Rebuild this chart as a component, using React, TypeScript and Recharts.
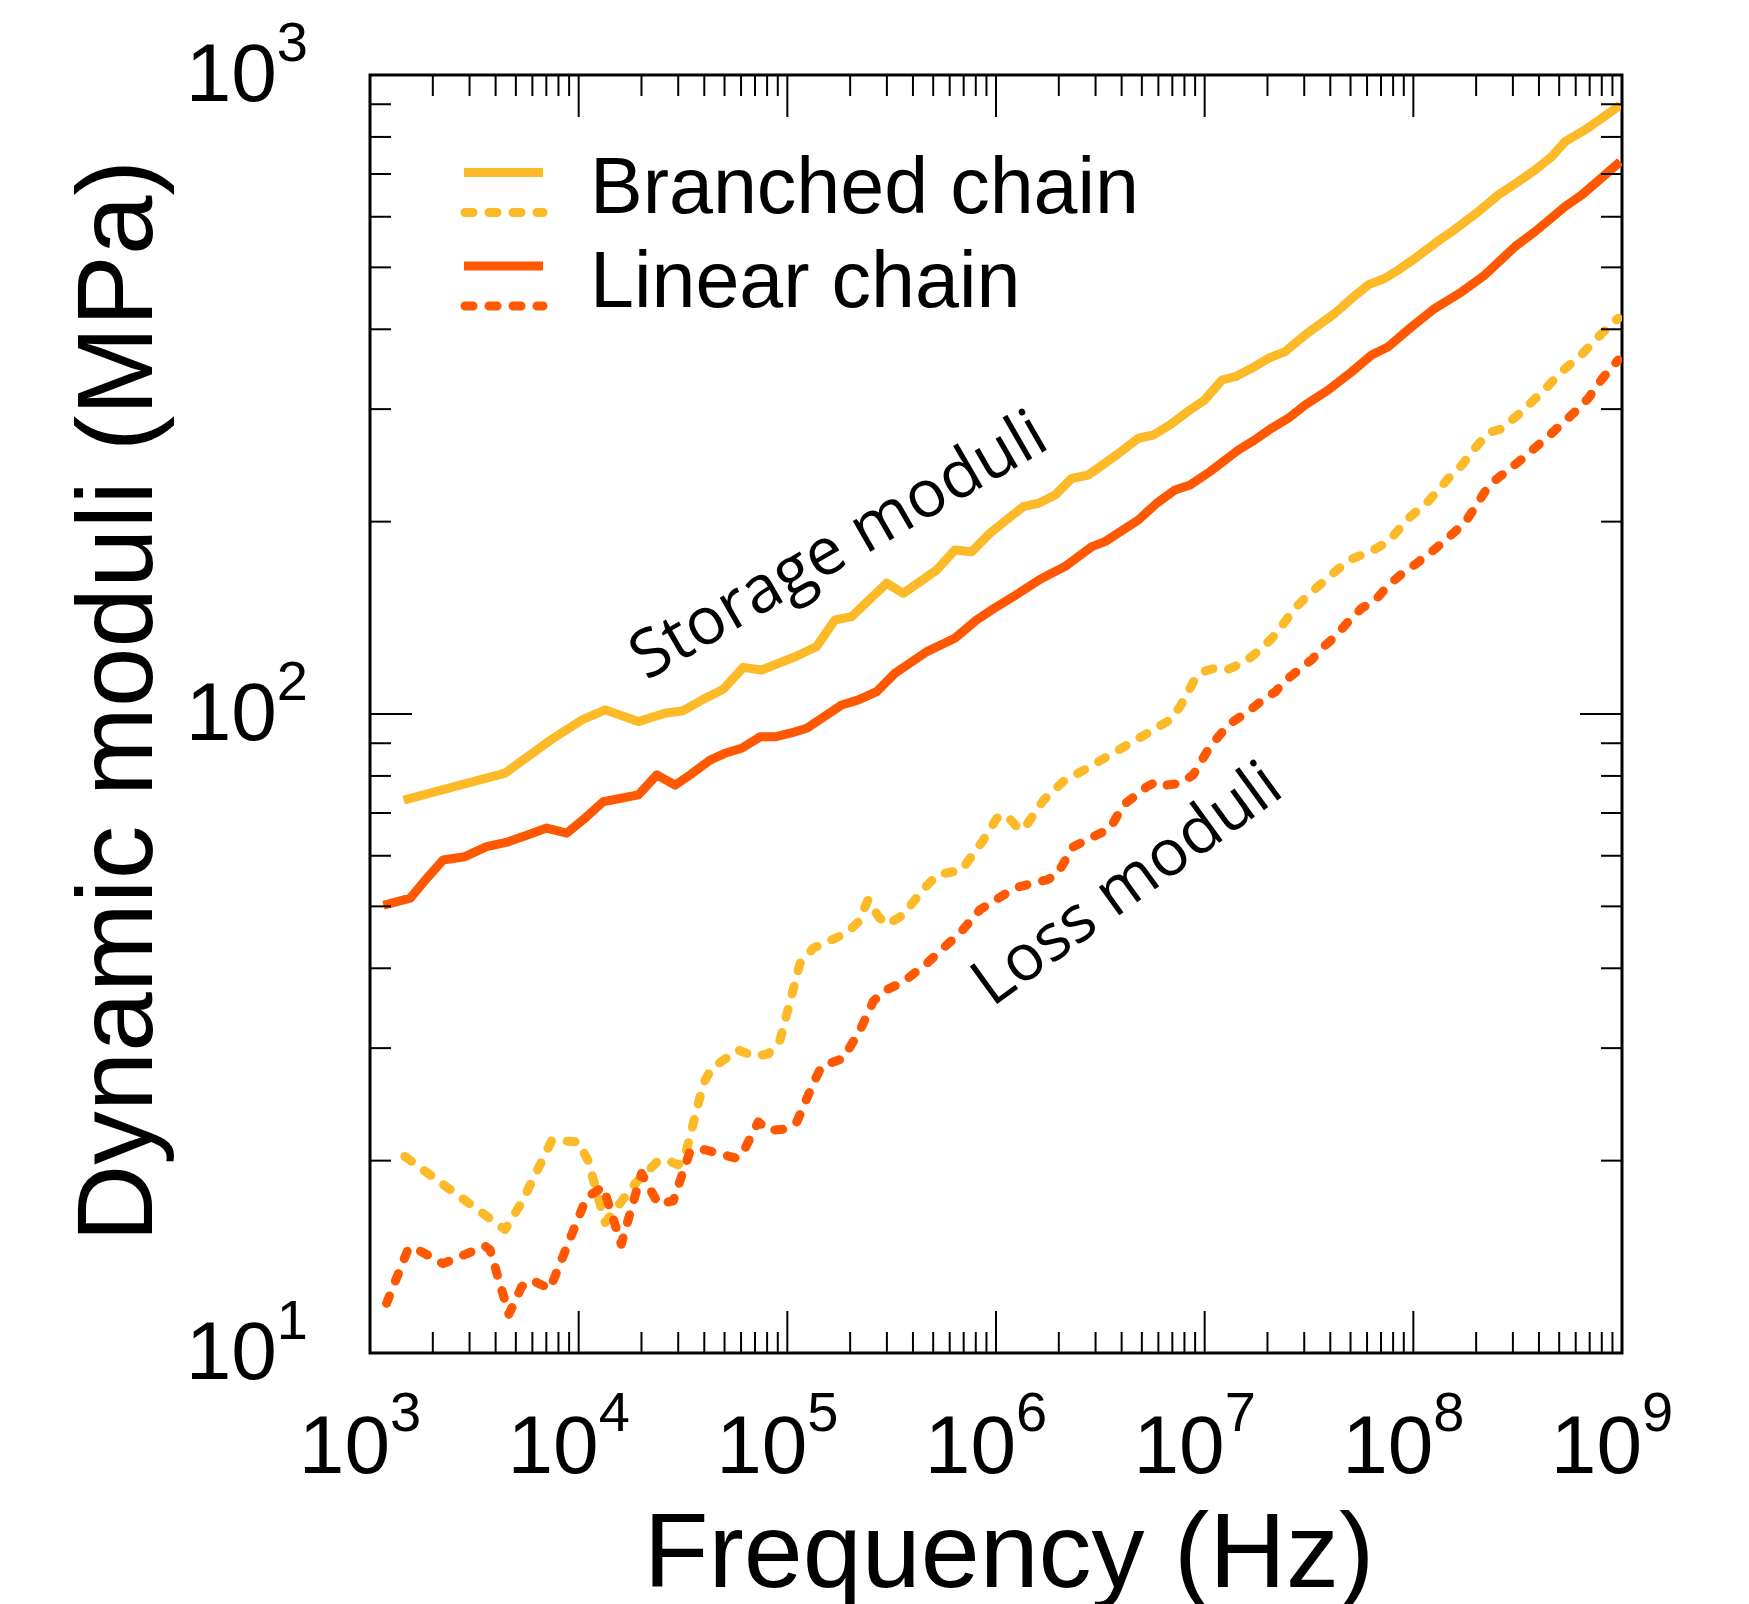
import React from 'react';
import { LineChart, Line, XAxis, YAxis, ReferenceArea } from 'recharts';

// ---- Data (frequency in Hz, modulus in MPa) ----
const branchedStorage: [number, number][] = [
  [1.45e3, 73.3], [4.44e3, 80.8], [7.43e3, 91.3], [1.05e4, 98.1], [1.34e4, 101.5], [1.93e4, 97.3],
  [2.59e4, 100.3], [3.17e4, 101.2], [4.03e4, 105.8], [4.93e4, 109.3], [6.15e4, 118.3], [7.53e4, 117.2],
  [1.09e5, 122.9], [1.38e5, 127.5], [1.69e5, 140.3], [2.03e5, 142.0], [2.99e5, 160.2], [3.6e5, 154.5],
  [5.2e5, 168.0], [6.35e5, 180.6], [7.66e5, 179.5], [9.35e5, 191.8], [1.35e6, 211.1], [1.6e6, 213.7],
  [1.92e6, 220.2], [2.31e6, 233.8], [2.77e6, 236.6], [3.78e6, 254.3], [4.81e6, 270.1], [5.68e6, 273.3],
  [6.82e6, 283.4], [8.51e6, 299.1], [1.0e7, 310.1], [1.21e7, 333.2], [1.4e7, 337.2], [1.68e7, 347.5],
  [2.02e7, 360.3], [2.43e7, 369.0], [3.03e7, 391.9], [4.21e7, 423.8], [5.07e7, 447.3], [6.08e7, 469.3],
  [7.31e7, 480.8], [8.47e7, 495.3], [1.02e8, 516.6], [1.27e8, 545.3], [1.53e8, 568.7], [2.05e8, 611.1],
  [2.55e8, 649.0], [3.18e8, 680.8], [3.83e8, 710.1], [4.6e8, 745.1], [5.33e8, 786.5], [6.53e8, 817.5],
  [8.0e8, 855.6], [9.8e8, 897.4],
];

const linearStorage: [number, number][] = [
  [1.16e3, 50.2], [1.56e3, 51.5], [1.87e3, 55.3], [2.24e3, 59.1], [2.85e3, 59.8], [3.62e3, 62.0],
  [4.6e3, 63.1], [5.73e3, 64.7], [7.03e3, 66.3], [8.77e3, 65.1], [1.05e4, 68.3], [1.31e4, 72.9],
  [1.93e4, 74.7], [2.37e4, 80.3], [2.9e4, 77.4], [3.42e4, 80.3], [4.26e4, 84.7], [5.02e4, 86.8],
  [6.04e4, 88.4], [7.4e4, 92.1], [8.73e4, 92.1], [1.09e5, 93.8], [1.24e5, 95.0], [1.82e5, 103.3],
  [2.19e5, 105.2], [2.68e5, 108.4], [3.28e5, 115.8], [4.66e5, 125.2], [6.35e5, 131.4], [8.07e5, 140.3],
  [9.53e5, 145.5], [1.21e6, 152.6], [1.66e6, 163.1], [2.14e6, 170.1], [2.88e6, 182.8], [3.33e6, 186.1],
  [4.81e6, 201.2], [5.89e6, 213.7], [7.21e6, 224.2], [8.51e6, 228.3], [1.06e7, 239.5], [1.45e7, 258.9],
  [1.74e7, 268.5], [2.09e7, 280.0], [2.52e7, 290.3], [3.03e7, 304.5], [3.91e7, 321.4], [5.07e7, 343.3],
  [6.31e7, 364.6], [7.59e7, 375.7], [9.82e7, 403.7], [1.27e8, 431.4], [1.71e8, 458.0], [2.2e8, 486.4],
  [3.07e8, 538.7], [3.83e8, 568.7], [5.33e8, 622.3], [6.41e8, 649.0], [8.28e8, 697.5], [9.8e8, 731.6],
];

const branchedLoss: [number, number][] = [
  [1.47e3, 20.3], [4.44e3, 15.6], [5.33e3, 17.2], [7.43e3, 21.5], [9.95e3, 21.4], [1.11e4, 20.0],
  [1.34e4, 16.0], [1.86e4, 18.4], [2.41e4, 20.0], [2.69e4, 20.0], [3.0e4, 19.7], [3.23e4, 20.3],
  [3.96e4, 26.4], [4.34e4, 27.9], [5.82e4, 29.8], [7.0e4, 29.1], [8.11e4, 29.4], [9.23e4, 30.9],
  [1.15e5, 40.7], [1.33e5, 43.0], [1.92e5, 45.4], [2.19e5, 47.3], [2.44e5, 51.2], [2.73e5, 48.2],
  [2.99e5, 46.8], [3.6e5, 48.5], [4.32e5, 52.4], [5.2e5, 56.0], [6.85e5, 57.0], [8.69e5, 63.5],
  [1.01e6, 68.7], [1.12e6, 69.5], [1.3e6, 65.8], [1.4e6, 67.0], [1.69e6, 73.3], [2.1e6, 78.4],
  [2.82e6, 82.7], [3.52e6, 86.3], [4.39e6, 90.0], [5.47e6, 93.8], [6.82e6, 97.9], [7.62e6, 102.7],
  [9.0e6, 113.5], [1.0e7, 116.7], [1.16e7, 118.3], [1.3e7, 117.5], [1.56e7, 120.7], [1.88e7, 126.7],
  [2.17e7, 132.9], [2.71e7, 146.4], [3.14e7, 153.6], [3.91e7, 163.5], [4.88e7, 173.9], [6.31e7, 179.9],
  [7.59e7, 186.2], [9.46e7, 202.3], [1.18e8, 215.2], [1.47e8, 233.6], [1.71e8, 245.2], [1.98e8, 260.9],
  [2.29e8, 275.6], [2.65e8, 279.4], [3.3e8, 297.2], [4.12e8, 318.4], [5.14e8, 343.4], [6.41e8, 365.4],
  [8.0e8, 394.0], [9.59e8, 416.3],
];

const linearLoss: [number, number][] = [
  [1.2e3, 11.96], [1.53e3, 14.6], [1.7e3, 14.5], [2.24e3, 13.8], [3.56e3, 14.7], [3.76e3, 14.5],
  [4.63e3, 11.5], [5.33e3, 12.7], [5.96e3, 13.0], [7.29e3, 12.6], [1.09e4, 17.5], [1.31e4, 18.2],
  [1.6e4, 14.8], [2.0e4, 19.1], [2.41e4, 17.1], [2.84e4, 17.3], [3.42e4, 20.7], [4.03e4, 20.8],
  [5.61e4, 20.2], [6.04e4, 20.4], [7.26e4, 23.0], [8.11e4, 22.3], [9.75e4, 22.4], [1.11e5, 23.0],
  [1.33e5, 26.4], [1.46e5, 28.1], [1.85e5, 28.9], [2.23e5, 32.0], [2.58e5, 35.5], [2.88e5, 36.8],
  [3.6e5, 38.1], [4.66e5, 40.7], [6.03e5, 44.0], [6.72e5, 45.4], [8.38e5, 49.4], [1.12e6, 52.4],
  [1.3e6, 53.7], [1.75e6, 55.0], [1.95e6, 56.0], [2.35e6, 62.0], [2.72e6, 63.5], [3.52e6, 66.2],
  [4.07e6, 72.0], [5.27e6, 76.9], [5.89e6, 78.4], [6.58e6, 77.4], [7.62e6, 77.9], [8.81e6, 80.3],
  [1.06e7, 88.9], [1.3e7, 96.2], [1.62e7, 101.0], [1.95e7, 105.9], [2.17e7, 108.2], [2.43e7, 112.7],
  [2.92e7, 118.3], [3.26e7, 121.6], [3.64e7, 126.7], [4.21e7, 132.1], [4.88e7, 139.5], [5.65e7, 146.4],
  [6.55e7, 150.5], [7.59e7, 159.0], [8.79e7, 165.6], [1.02e8, 171.4], [1.27e8, 181.2], [1.58e8, 192.8],
  [1.77e8, 199.5], [1.98e8, 210.8], [2.2e8, 222.7], [2.46e8, 232.1], [2.75e8, 238.6], [3.3e8, 250.3],
  [4.43e8, 271.9], [5.96e8, 297.2], [6.89e8, 311.9], [8.0e8, 334.1], [9.59e8, 358.1],
];

// ---- Axis ticks ----
const xMajorTicks = [1e3, 1e4, 1e5, 1e6, 1e7, 1e8, 1e9];
const yMajorTicks = [1e1, 1e2, 1e3];
const minorMultipliers = [2, 3, 4, 5, 6, 7, 8, 9];
const withMinors = (majors: number[]) => {
  const out: number[] = [];
  majors.forEach((m, i) => {
    out.push(m);
    if (i < majors.length - 1) minorMultipliers.forEach((k) => out.push(m * k));
  });
  return out;
};
const xTicks = withMinors(xMajorTicks);
const yTicks = withMinors(yMajorTicks);

// ---- Text ----
const xTitle = 'Frequency (Hz)';
const yTitle = 'Dynamic moduli (MPa)';
const legendLabels = ['Branched chain', 'Linear chain'];
const storageLabel = 'Storage moduli';
const lossLabel = 'Loss moduli';

// ---- Style / layout ----
const YELLOW = '#FCBA28';
const ORANGE = '#FF5800';
const LW = 9;
const DASH = '8 16';
const W = 1733;
const H = 1596;
const MARGIN = { top: 67, right: 119, bottom: 151, left: 262 };
const Y_AXIS_W = 100;
const X_AXIS_H = 100;
const PLOT_W = W - MARGIN.left - Y_AXIS_W - MARGIN.right;
const PLOT_H = H - MARGIN.top - MARGIN.bottom - X_AXIS_H;
const SANS = '"Liberation Sans", Arial, Helvetica, sans-serif';
const ANNOT = '"Open Sans", "Liberation Sans", sans-serif';

const toPts = (arr: [number, number][]) => arr.map(([f, g]) => ({ f, g }));

const isMajor = (v: number) => {
  const l = Math.log10(v);
  return Math.abs(l - Math.round(l)) < 1e-6;
};

const XTick = (props: any) => {
  const { x, y, payload } = props;
  const v = payload.value as number;
  const major = isMajor(v);
  const len = major ? 42 : 21;
  const e = Math.round(Math.log10(v));
  return (
    <g>
      <line x1={x} y1={y} x2={x} y2={y - len} stroke="#000" strokeWidth={2} />
      <line x1={x} y1={y - PLOT_H} x2={x} y2={y - PLOT_H + len} stroke="#000" strokeWidth={2} />
      {major && (
        <text x={x - 10} y={y + 120} textAnchor="middle" fontFamily={SANS} fontSize={82} fill="#000">
          10
          <tspan dy={-42} fontSize={56}>{e}</tspan>
        </text>
      )}
    </g>
  );
};

const YTick = (props: any) => {
  const { x, y, payload } = props;
  const v = payload.value as number;
  const major = isMajor(v);
  const len = major ? 42 : 21;
  const e = Math.round(Math.log10(v));
  return (
    <g>
      <line x1={x} y1={y} x2={x + len} y2={y} stroke="#000" strokeWidth={2} />
      <line x1={x + PLOT_W} y1={y} x2={x + PLOT_W - len} y2={y} stroke="#000" strokeWidth={2} />
      {major && (
        <text x={x - 62} y={y + 26} textAnchor="end" fontFamily={SANS} fontSize={82} fill="#000">
          10
          <tspan dy={-40} fontSize={56}>{e}</tspan>
        </text>
      )}
    </g>
  );
};

export default function App() {
  return (
    <div style={{ position: 'relative', width: W, height: H, background: '#fff' }}>
      <LineChart width={W} height={H} margin={MARGIN}>
        <XAxis
          dataKey="f"
          type="number"
          scale="log"
          domain={[1e3, 1e9]}
          allowDataOverflow
          ticks={xTicks}
          interval={0}
          height={X_AXIS_H}
          axisLine={false}
          tickLine={false}
          tickSize={0}
          tickMargin={0}
          tick={<XTick />}
        />
        <YAxis
          dataKey="g"
          type="number"
          scale="log"
          domain={[10, 1000]}
          allowDataOverflow
          ticks={yTicks}
          interval={0}
          width={Y_AXIS_W}
          axisLine={false}
          tickLine={false}
          tickSize={0}
          tickMargin={0}
          tick={<YTick />}
        />
        <Line data={toPts(branchedStorage)} dataKey="g" type="linear" stroke={YELLOW} strokeWidth={LW}
          strokeLinejoin="round" dot={false} activeDot={false} isAnimationActive={false} />
        <Line data={toPts(branchedLoss)} dataKey="g" type="linear" stroke={YELLOW} strokeWidth={LW}
          strokeDasharray={DASH} strokeLinecap="round" strokeLinejoin="round" dot={false} activeDot={false}
          isAnimationActive={false} />
        <Line data={toPts(linearStorage)} dataKey="g" type="linear" stroke={ORANGE} strokeWidth={LW}
          strokeLinejoin="round" dot={false} activeDot={false} isAnimationActive={false} />
        <Line data={toPts(linearLoss)} dataKey="g" type="linear" stroke={ORANGE} strokeWidth={LW}
          strokeDasharray={DASH} strokeLinecap="round" strokeLinejoin="round" dot={false} activeDot={false}
          isAnimationActive={false} />
        <ReferenceArea x1={1e3} x2={1e9} y1={10} y2={1000} fill="none" fillOpacity={0} stroke="#000"
          strokeWidth={3} ifOverflow="visible" />
      </LineChart>
      <svg width={W} height={H} style={{ position: 'absolute', left: 0, top: 0, pointerEvents: 'none', overflow: 'visible' }}>
        {/* legend */}
        <line x1={456} y1={164.5} x2={535} y2={164.5} stroke={YELLOW} strokeWidth={LW} />
        <line x1={457} y1={204.5} x2={535} y2={204.5} stroke={YELLOW} strokeWidth={LW} strokeDasharray={DASH} strokeLinecap="round" />
        <line x1={456} y1={258} x2={535} y2={258} stroke={ORANGE} strokeWidth={LW} />
        <line x1={457} y1={298} x2={535} y2={298} stroke={ORANGE} strokeWidth={LW} strokeDasharray={DASH} strokeLinecap="round" />
        <text x={582} y={205} fontFamily={SANS} fontSize={79} fill="#000">{legendLabels[0]}</text>
        <text x={582} y={299} fontFamily={SANS} fontSize={79} fill="#000">{legendLabels[1]}</text>
        {/* annotations */}
        <text x={841} y={556} textAnchor="middle" fontFamily={ANNOT} fontSize={66} fill="#000"
          transform="rotate(-30 841 556)">{storageLabel}</text>
        <text x={1131} y={893} textAnchor="middle" fontFamily={ANNOT} fontSize={65} fill="#000"
          transform="rotate(-36 1131 893)">{lossLabel}</text>
        {/* axis titles */}
        <text x={1001} y={1579} textAnchor="middle" fontFamily={SANS} fontSize={106} fill="#000">{xTitle}</text>
        <text x={144} y={693} textAnchor="middle" fontFamily={SANS} fontSize={107} fill="#000"
          transform="rotate(-90 144 693)">{yTitle}</text>
      </svg>
    </div>
  );
}
